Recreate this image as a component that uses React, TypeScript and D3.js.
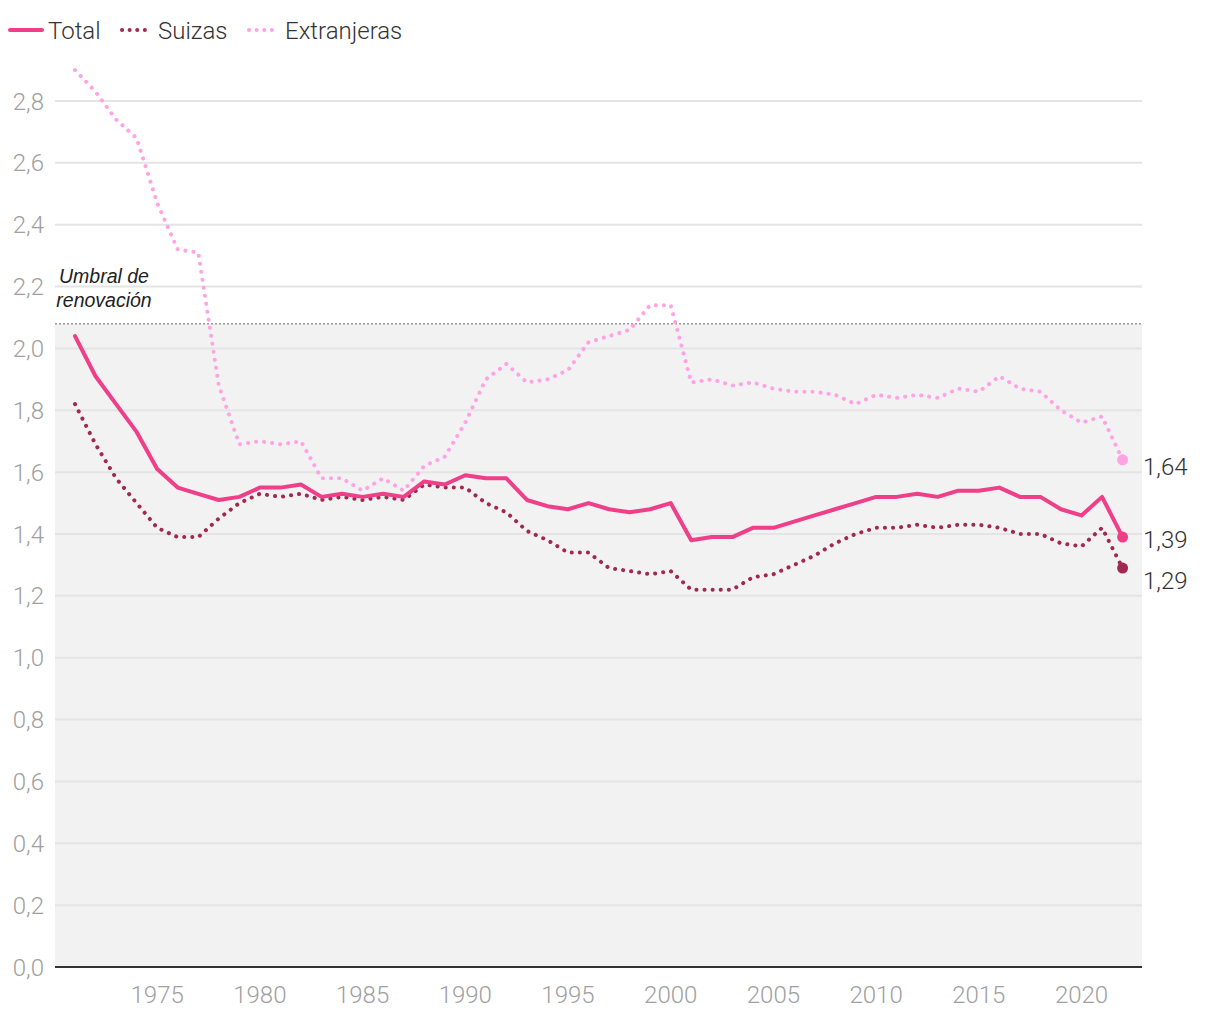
import React from "react";
import * as d3 from "d3";

const years = [
  1971, 1972, 1973, 1974, 1975, 1976, 1977, 1978, 1979, 1980,
  1981, 1982, 1983, 1984, 1985, 1986, 1987, 1988, 1989, 1990,
  1991, 1992, 1993, 1994, 1995, 1996, 1997, 1998, 1999, 2000,
  2001, 2002, 2003, 2004, 2005, 2006, 2007, 2008, 2009, 2010,
  2011, 2012, 2013, 2014, 2015, 2016, 2017, 2018, 2019, 2020,
  2021, 2022,
];

const total = [
  2.04, 1.91, 1.82, 1.73, 1.61, 1.55, 1.53, 1.51, 1.52, 1.55,
  1.55, 1.56, 1.52, 1.53, 1.52, 1.53, 1.52, 1.57, 1.56, 1.59,
  1.58, 1.58, 1.51, 1.49, 1.48, 1.5, 1.48, 1.47, 1.48, 1.5,
  1.38, 1.39, 1.39, 1.42, 1.42, 1.44, 1.46, 1.48, 1.5, 1.52,
  1.52, 1.53, 1.52, 1.54, 1.54, 1.55, 1.52, 1.52, 1.48, 1.46,
  1.52, 1.39,
];

const suizas = [
  1.82, 1.69, 1.58, 1.5, 1.42, 1.39, 1.39, 1.45, 1.5, 1.53,
  1.52, 1.53, 1.51, 1.52, 1.51, 1.52, 1.51, 1.56, 1.55, 1.55,
  1.5, 1.47, 1.41, 1.38, 1.34, 1.34, 1.29, 1.28, 1.27, 1.28,
  1.22, 1.22, 1.22, 1.26, 1.27, 1.3, 1.33, 1.37, 1.4, 1.42,
  1.42, 1.43, 1.42, 1.43, 1.43, 1.42, 1.4, 1.4, 1.37, 1.36,
  1.42, 1.29,
];

const extranjeras = [
  2.9, 2.83, 2.74, 2.68, 2.47, 2.32, 2.31, 1.88, 1.69, 1.7,
  1.69, 1.7, 1.58, 1.58, 1.54, 1.58, 1.54, 1.62, 1.65, 1.76,
  1.9, 1.95, 1.89, 1.9, 1.93, 2.02, 2.04, 2.06, 2.14, 2.14,
  1.89, 1.9, 1.88, 1.89, 1.87, 1.86, 1.86, 1.85, 1.82, 1.85,
  1.84, 1.85, 1.84, 1.87, 1.86, 1.91, 1.87, 1.86, 1.8, 1.76,
  1.78, 1.64,
];

const yTicks = [0, 0.2, 0.4, 0.6, 0.8, 1.0, 1.2, 1.4, 1.6, 1.8, 2.0, 2.2, 2.4, 2.6, 2.8];
const xTicks = [1975, 1980, 1985, 1990, 1995, 2000, 2005, 2010, 2015, 2020];
const replacementLevel = 2.08;
const thresholdLabel = ["Umbral de", "renovación"];

const seriesNames = ["Total", "Suizas", "Extranjeras"];
const seriesColors = ["#ef3f88", "#a1294f", "#ffa3e4"];
const seriesDotted = [false, true, true];
const seriesValues = [total, suizas, extranjeras];
const endLabelShift = [2, 12, 7];

const W = 1220;
const H = 1020;
const left = 55;
const right = 1142;

const fmt = (v: number) => v.toFixed(2).replace(".", ",");
const fmt1 = (v: number) => v.toFixed(1).replace(".", ",");

export default function App() {
  const x = d3.scaleLinear().domain([1971, 2022]).range([75, 1122.6]);
  const y = d3.scaleLinear().domain([0, 2.8]).range([967, 101]);

  const font = "Roboto, 'Noto Sans', sans-serif";

  const lineGen = (vals: number[]) =>
    d3
      .line<number>()
      .x((_, i) => x(years[i]))
      .y((d) => y(d))(vals) || "";

  const legendX = [10, 120, 247];

  return (
    <svg
      width={W}
      height={H}
      style={{ position: "absolute", left: 0, top: 0, background: "#fff" }}
      fontFamily={font}
    >
      <rect
        x={left}
        y={y(replacementLevel)}
        width={right - left}
        height={y(0) - y(replacementLevel)}
        fill="#f2f2f2"
      />
      {yTicks
        .filter((t) => t > 0)
        .map((t) => (
          <line
            key={t}
            x1={left}
            x2={right}
            y1={y(t)}
            y2={y(t)}
            stroke="#e4e4e4"
            strokeWidth={2}
          />
        ))}
      {yTicks.map((t) => (
        <text
          key={"yl" + t}
          x={44}
          y={y(t) + 8.5}
          textAnchor="end"
          fontSize={24}
          fontWeight={300}
          fill="#a0a0a0"
        >
          {fmt1(t)}
        </text>
      ))}
      <line
        x1={left}
        x2={right}
        y1={y(replacementLevel)}
        y2={y(replacementLevel)}
        stroke="#999"
        strokeWidth={1.5}
        strokeDasharray="2 2"
      />
      {thresholdLabel.map((s, i) => (
        <text
          key={s}
          x={104}
          y={283 + i * 24}
          textAnchor="middle"
          fontSize={19.5}
          fontStyle="italic"
          fontFamily="'Liberation Sans', Arial, sans-serif"
          fill="#222"
        >
          {s}
        </text>
      ))}
      <line x1={left} x2={right} y1={y(0)} y2={y(0)} stroke="#333" strokeWidth={2} />
      {xTicks.map((t) => (
        <text
          key={"xl" + t}
          x={x(t)}
          y={1003}
          textAnchor="middle"
          fontSize={24}
          fontWeight={300}
          fill="#a0a0a0"
        >
          {t}
        </text>
      ))}
      {[2, 1, 0].map((si) => (
        <path
          key={seriesNames[si]}
          d={lineGen(seriesValues[si])}
          fill="none"
          stroke={seriesColors[si]}
          strokeWidth={4}
          strokeLinecap="round"
          strokeLinejoin="round"
          strokeDasharray={seriesDotted[si] ? "0.1 8" : undefined}
        />
      ))}
      {[2, 1, 0].map((si) => {
        const vals = seriesValues[si];
        const last = vals[vals.length - 1];
        return (
          <g key={"end" + si}>
            <circle cx={x(years[years.length - 1])} cy={y(last)} r={5.5} fill={seriesColors[si]} />
            <text
              x={1143}
              y={y(last) + 8.5 + endLabelShift[si]}
              fontSize={24}
              fontWeight={300}
              fill="#333"
            >
              {fmt(last)}
            </text>
          </g>
        );
      })}
      {seriesNames.map((n, i) => (
        <g key={"lg" + n}>
          <line
            x1={legendX[i] + (seriesDotted[i] ? 2 : 0)}
            x2={legendX[i] + 32}
            y1={30}
            y2={30}
            stroke={seriesColors[i]}
            strokeWidth={4}
            strokeLinecap="round"
            strokeDasharray={seriesDotted[i] ? "0.1 7.5" : undefined}
          />
          <text x={legendX[i] + 38} y={38.5} fontSize={24} fill="#333" fontWeight={300}>
            {n}
          </text>
        </g>
      ))}
    </svg>
  );
}
